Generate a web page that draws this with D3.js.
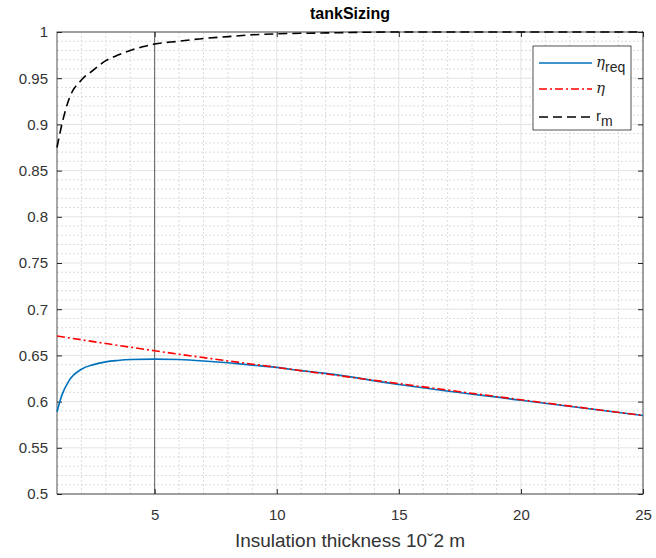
<!DOCTYPE html>
<html>
<head>
<meta charset="utf-8">
<script src="https://cdn.jsdelivr.net/npm/d3@7"></script>
<style>
  body { margin: 0; background: #fff; }
  svg { font-family: "Liberation Sans", Arial, sans-serif; }
</style>
</head>
<body>
<svg width="656" height="558"></svg>
<script>
// r_m curve (black dashed)
var rmX = [1, 1.2, 1.5, 2, 2.5, 3, 3.5, 4, 4.5, 5, 6, 7, 8, 9, 10, 12, 15, 20, 25];
var rmY = [0.875, 0.90, 0.928, 0.948, 0.959, 0.969, 0.975, 0.980, 0.984, 0.987, 0.990, 0.993, 0.995, 0.997, 0.998, 0.999, 1.0, 1.0, 1.0];

// eta_req curve (blue)
var reqX = [1, 1.2, 1.5, 2, 2.5, 3, 3.5, 4, 5, 6, 7, 8, 9, 10, 11, 12, 15, 20, 25];
var reqY = [0.589, 0.607, 0.623, 0.635, 0.640, 0.643, 0.6445, 0.6455, 0.646, 0.6455, 0.644, 0.642, 0.6395, 0.637, 0.6335, 0.6305, 0.6185, 0.6015, 0.585];

// eta curve (red dash-dot)
var etaX = [1, 5, 10, 15, 20, 25];
var etaY = [0.671, 0.655, 0.637, 0.6195, 0.602, 0.585];

var xTicks = [5, 10, 15, 20, 25];
var yTicks = [0.5, 0.55, 0.6, 0.65, 0.7, 0.75, 0.8, 0.85, 0.9, 0.95, 1];

var svg = d3.select("svg"),
    margin = {top: 32, right: 13, bottom: 64, left: 57},
    width = 656 - margin.left - margin.right,
    height = 558 - margin.top - margin.bottom,
    g = svg.append("g").attr("transform", "translate(" + margin.left + "," + margin.top + ")");

var x = d3.scaleLinear().domain([1, 25]).range([0, width]);
var y = d3.scaleLinear().domain([0.5, 1]).range([height, 0]);

// minor grid
g.append("g").selectAll("line")
  .data(d3.range(2, 25).filter(function(d) { return d % 5 != 0; }))
  .enter().append("line")
    .attr("x1", function(d) { return x(d); }).attr("x2", function(d) { return x(d); })
    .attr("y1", 0).attr("y2", height)
    .attr("stroke", "#dcdcdc").attr("stroke-dasharray", "2,2");
g.append("g").selectAll("line")
  .data(d3.range(51, 100).filter(function(d) { return d % 5 != 0; }).map(function(d) { return d / 100; }))
  .enter().append("line")
    .attr("x1", 0).attr("x2", width)
    .attr("y1", function(d) { return y(d); }).attr("y2", function(d) { return y(d); })
    .attr("stroke", "#dcdcdc").attr("stroke-dasharray", "2,2");

// major grid
g.append("g").selectAll("line")
  .data(xTicks)
  .enter().append("line")
    .attr("x1", function(d) { return x(d); }).attr("x2", function(d) { return x(d); })
    .attr("y1", 0).attr("y2", height)
    .attr("stroke", "#e3e3e3");
g.append("g").selectAll("line")
  .data(yTicks)
  .enter().append("line")
    .attr("x1", 0).attr("x2", width)
    .attr("y1", function(d) { return y(d); }).attr("y2", function(d) { return y(d); })
    .attr("stroke", "#e3e3e3");

// vertical marker at x = 5
g.append("line")
  .attr("x1", x(5)).attr("x2", x(5))
  .attr("y1", 0).attr("y2", height)
  .attr("stroke", "#3a3a3a").attr("stroke-width", 0.8);

// axes (ticks inside, box all round)
var axColor = "#262626";
function styleAxis(sel) {
  sel.select(".domain").remove();
  sel.selectAll("line").attr("stroke", axColor);
  sel.selectAll("text").attr("fill", "#333").style("font-size", "15px")
     .attr("font-family", "Liberation Sans, Arial, sans-serif");
}
g.append("g").attr("transform", "translate(0," + height + ")")
  .call(d3.axisBottom(x).tickValues(xTicks).tickSizeInner(-5).tickSizeOuter(0).tickPadding(15))
  .call(styleAxis);
g.append("g")
  .call(d3.axisTop(x).tickValues(xTicks).tickSizeInner(-5).tickSizeOuter(0).tickFormat(""))
  .call(styleAxis);
g.append("g")
  .call(d3.axisLeft(y).tickValues(yTicks).tickSizeInner(-5).tickSizeOuter(0).tickPadding(9).tickFormat(d3.format("")))
  .call(styleAxis);
g.append("g").attr("transform", "translate(" + width + ",0)")
  .call(d3.axisRight(y).tickValues(yTicks).tickSizeInner(-5).tickSizeOuter(0).tickFormat(""))
  .call(styleAxis);
g.append("rect")
  .attr("x", 0).attr("y", 0).attr("width", width).attr("height", height)
  .attr("fill", "none").attr("stroke", axColor).attr("stroke-width", 0.8);

// lines
var line = d3.line()
  .x(function(d) { return x(d[0]); })
  .y(function(d) { return y(d[1]); })
  .curve(d3.curveMonotoneX);

g.append("path")
  .datum(d3.zip(reqX, reqY))
  .attr("fill", "none").attr("stroke", "#0072bd").attr("stroke-width", 1.6)
  .attr("d", line);
g.append("path")
  .datum(d3.zip(etaX, etaY))
  .attr("fill", "none").attr("stroke", "#ff0000").attr("stroke-width", 1.6)
  .attr("stroke-dasharray", "8,3,2,3")
  .attr("d", line);
g.append("path")
  .datum(d3.zip(rmX, rmY))
  .attr("fill", "none").attr("stroke", "#000").attr("stroke-width", 1.6)
  .attr("stroke-dasharray", "9,5")
  .attr("d", line);

// title and labels
svg.append("text")
  .attr("x", margin.left + width / 2).attr("y", 19)
  .attr("text-anchor", "middle")
  .style("font-size", "16px").style("font-weight", "bold").attr("fill", "#000")
  .text("tankSizing");
svg.append("text")
  .attr("x", margin.left + width / 2).attr("y", 547)
  .attr("text-anchor", "middle")
  .style("font-size", "19px").attr("fill", "#333")
  .text("Insulation thickness 10\u02C72 m");

// legend
var leg = svg.append("g").attr("transform", "translate(533,46)");
leg.append("rect")
  .attr("width", 98).attr("height", 84)
  .attr("fill", "#fff").attr("stroke", axColor).attr("stroke-width", 0.8);
var legItems = [
  {c: "#0072bd", dash: null, y: 17, main: "\u03B7", sub: "req", italic: true},
  {c: "#ff0000", dash: "8,3,2,3", y: 43, main: "\u03B7", sub: "", italic: true},
  {c: "#000", dash: "9,5", y: 71, main: "r", sub: "m", italic: false}
];
legItems.forEach(function(d) {
  leg.append("line")
    .attr("x1", 6).attr("x2", 59).attr("y1", d.y).attr("y2", d.y)
    .attr("stroke", d.c).attr("stroke-width", 1.6)
    .attr("stroke-dasharray", d.dash);
  var t = leg.append("text").attr("x", 63).attr("y", d.y + 4)
    .style("font-size", "15px").attr("fill", "#262626");
  t.append("tspan").style("font-style", d.italic ? "italic" : "normal")
    .attr("font-family", d.italic ? "DejaVu Serif, serif" : null).text(d.main);
  if (d.sub) t.append("tspan").attr("dy", 5).style("font-size", "14px").text(d.sub);
});
</script>
</body>
</html>
